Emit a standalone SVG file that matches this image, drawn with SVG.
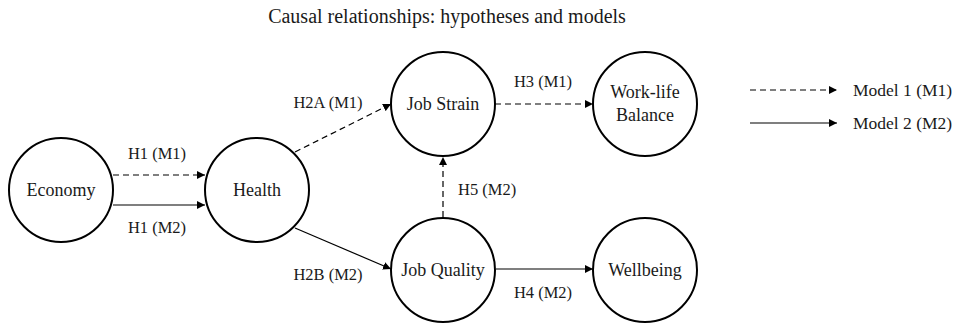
<svg xmlns="http://www.w3.org/2000/svg" width="959" height="324" viewBox="0 0 959 324">
<style>
text{font-family:"Liberation Serif","DejaVu Serif",serif;fill:#1a1a1a;font-size:16.5px}
.node{fill:#fff;stroke:#000;stroke-width:2}
.n{font-size:18px}
.c{text-anchor:middle}
.e{fill:none;stroke:#000;stroke-width:1.2}
.d{stroke-dasharray:6 4}
.lg{font-size:17.5px}
.t{font-size:20px}
</style>
<defs>
<marker id="ah" viewBox="0 0 10 10" refX="10" refY="5" markerWidth="8" markerHeight="8" markerUnits="userSpaceOnUse" orient="auto">
<path d="M0,0 L10,5 L0,10 z" fill="#000"/>
</marker>
</defs>
<rect width="959" height="324" fill="#fff"/>
<text x="447" y="23" class="c t">Causal relationships: hypotheses and models</text>
<g id="connectors">
<line class="e d" x1="113" y1="175" x2="205" y2="175" marker-end="url(#ah)"/>
<line class="e" x1="113" y1="205" x2="205" y2="205" marker-end="url(#ah)"/>
<line class="e d" x1="295" y1="152" x2="391" y2="104" marker-end="url(#ah)"/>
<line class="e" x1="295" y1="228" x2="391" y2="269" marker-end="url(#ah)"/>
<line class="e d" x1="443" y1="217" x2="443" y2="157" marker-end="url(#ah)"/>
<line class="e d" x1="495" y1="104" x2="593" y2="104" marker-end="url(#ah)"/>
<line class="e" x1="496" y1="269" x2="593" y2="269" marker-end="url(#ah)"/>
<text x="157" y="159" class="c">H1 (M1)</text>
<text x="157" y="233" class="c">H1 (M2)</text>
<text x="328" y="108" class="c">H2A (M1)</text>
<text x="328" y="280" class="c">H2B (M2)</text>
<text x="458" y="195">H5 (M2)</text>
<text x="543" y="87" class="c">H3 (M1)</text>
<text x="543" y="298" class="c">H4 (M2)</text>
</g>
<g id="economy"><circle class="node" cx="61" cy="190" r="52"/><text x="61" y="196" class="c n">Economy</text></g>
<g id="health"><circle class="node" cx="257" cy="190" r="52"/><text x="257" y="196" class="c n">Health</text></g>
<g id="jobstrain"><circle class="node" cx="443" cy="104" r="52"/><text x="443" y="110" class="c n">Job Strain</text></g>
<g id="jobquality"><circle class="node" cx="443" cy="270" r="52"/><text x="443" y="276" class="c n">Job Quality</text></g>
<g id="worklife"><circle class="node" cx="645" cy="104" r="52"/><text x="645" y="98" class="c n">Work-life</text><text x="645" y="121" class="c n">Balance</text></g>
<g id="wellbeing"><circle class="node" cx="645" cy="270" r="52"/><text x="645" y="276" class="c n">Wellbeing</text></g>
<g id="legend">
<line class="e d" x1="750" y1="90" x2="837" y2="90" marker-end="url(#ah)"/>
<line class="e" x1="750" y1="123" x2="837" y2="123" marker-end="url(#ah)"/>
<text x="853" y="96" class="lg">Model 1 (M1)</text>
<text x="853" y="129" class="lg">Model 2 (M2)</text>
</g>
</svg>
